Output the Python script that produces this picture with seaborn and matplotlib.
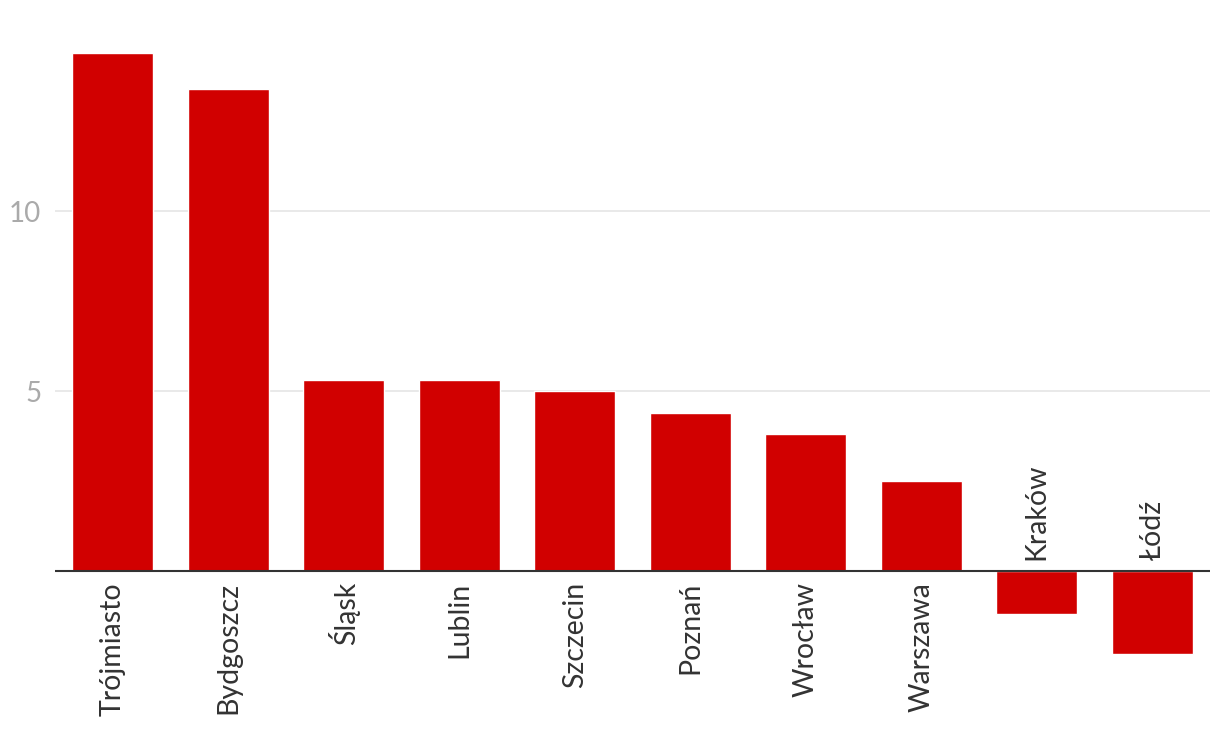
import matplotlib
matplotlib.use("Agg")
import matplotlib.pyplot as plt
import seaborn as sns
import pandas as pd

cities = ["Trójmiasto", "Bydgoszcz", "Śląsk", "Lublin", "Szczecin",
          "Poznań", "Wrocław", "Warszawa", "Kraków", "Łódź"]
values = [14.4, 13.4, 5.3, 5.3, 5.0, 4.4, 3.8, 2.5, -1.2, -2.3]
yticks = [5, 10]

sns.set_theme(style="white")
plt.rcParams['font.family'] = ['Lato', 'DejaVu Sans']

df = pd.DataFrame({"city": cities, "value": values})

fig = plt.figure(figsize=(12.2, 7.46), dpi=100)
ax = fig.add_axes([55/1220, 0.0417, (1210-55)/1220, 0.9162])

sns.barplot(data=df, x="city", y="value", color="#d10000", saturation=1,
            width=0.7, ax=ax, zorder=3)

ax.set_xlim(-0.5, len(cities) - 0.5)
ax.set_ylim(-4, 15)
ax.set_yticks(yticks)
ax.set_yticklabels([str(t) for t in yticks])
ax.tick_params(axis="y", length=0, pad=10, labelsize=20, labelcolor="#aaaaaa")
ax.set_xticks([])
ax.set_xlabel("")
ax.set_ylabel("")
for sp in ax.spines.values():
    sp.set_visible(False)
ax.yaxis.grid(True, color="#e3e3e3", linewidth=1.1, zorder=0)
ax.axhline(0, color="#333333", linewidth=1.5, zorder=4)

for i, (c, v) in enumerate(zip(cities, values)):
    if v >= 0:
        ax.annotate(c, xy=(i, 0), xytext=(0, -8), textcoords="offset points",
                    rotation=90, ha="center", va="top", fontsize=20.5,
                    color="#333333")
    else:
        ax.annotate(c, xy=(i, 0), xytext=(0, 8), textcoords="offset points",
                    rotation=90, ha="center", va="bottom", fontsize=20.5,
                    color="#333333")

fig.savefig("out.png", dpi=100)
